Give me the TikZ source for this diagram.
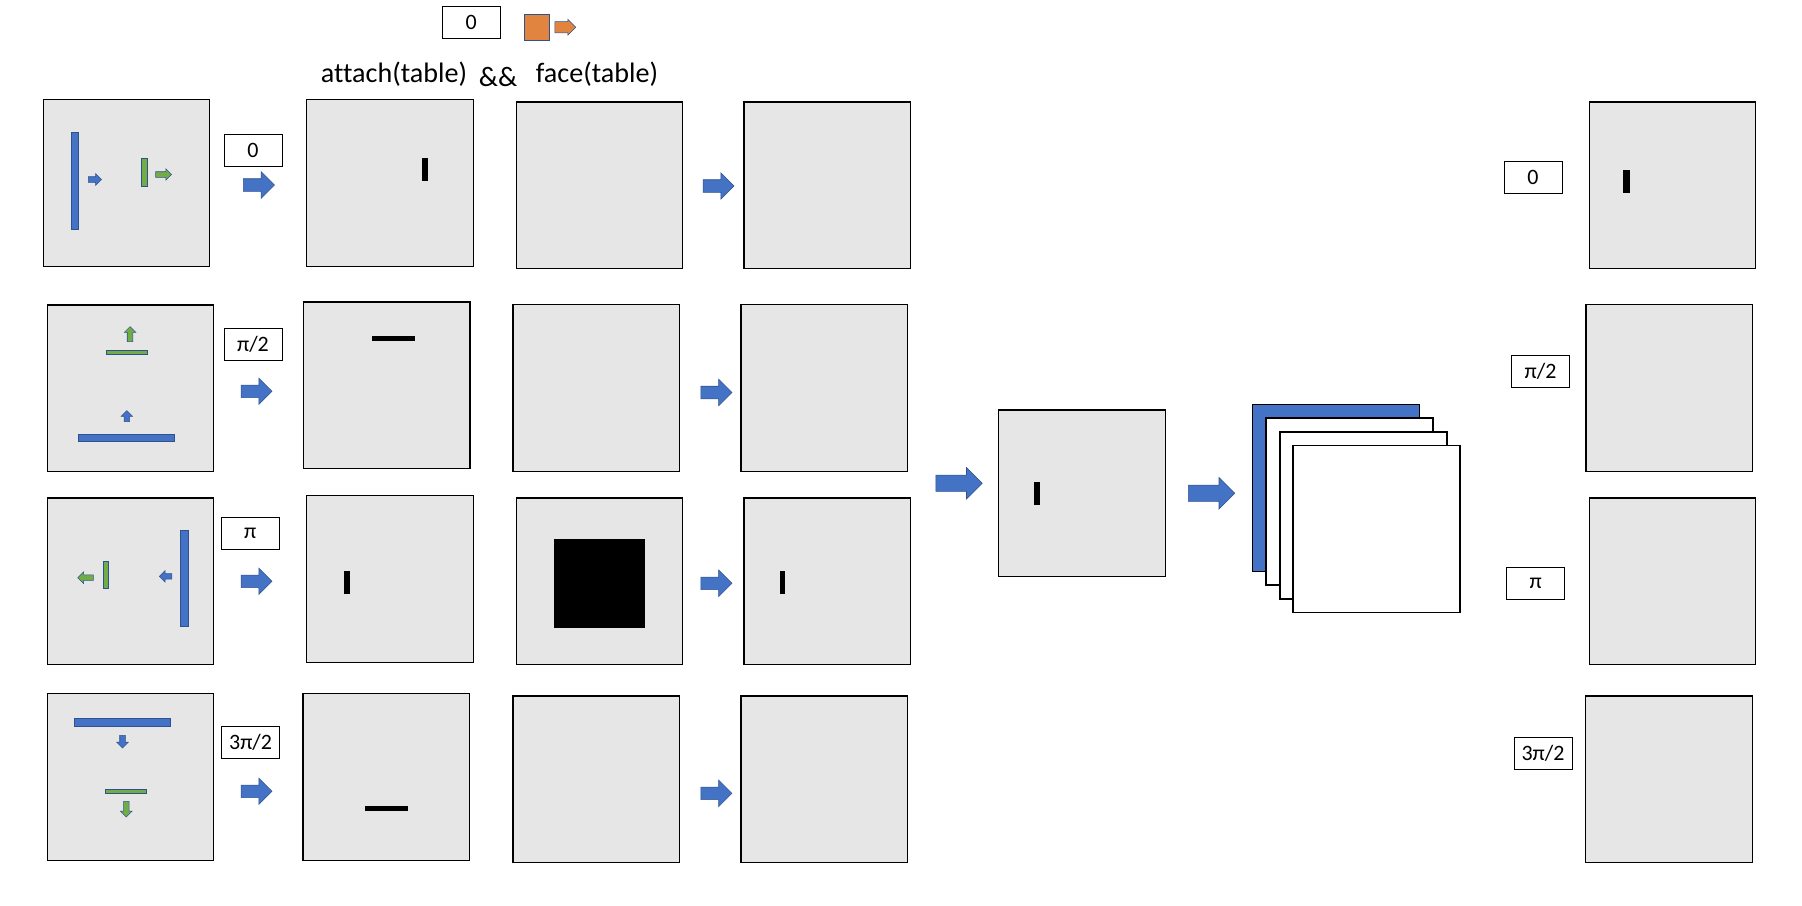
\documentclass[tikz,border=0pt]{standalone}
\usepackage{fontspec}
\setmainfont{Carlito}[Ligatures={NoCommon}]
\usetikzlibrary{positioning}
\usetikzlibrary{calc,shapes.arrows}

\definecolor{pblue}{HTML}{4472C4}
\definecolor{pgreen}{HTML}{70AD47}
\definecolor{porange}{HTML}{E0843F}
\definecolor{pedge}{HTML}{2F528F}
\definecolor{pgray}{HTML}{E6E6E6}

\tikzset{
    panel/.style={draw=black,line width=0.8pt,fill=pgray,minimum width=3.33cm,minimum height=3.34cm,inner sep=0pt},
    stackbox/.style={draw=black,line width=0.8pt,fill=white,minimum width=3.34cm,minimum height=3.34cm,inner sep=0pt},
    anglebox/.style={draw=black,line width=0.5pt,fill=white,minimum width=1.16cm,minimum height=0.64cm,inner sep=0pt,font=\fontsize{12.5}{14}\selectfont},
    blockarrow/.style={single arrow,draw=pedge,line width=0.3pt,fill=pblue,inner sep=0pt,inner ysep=0.12cm,single arrow head extend=0.14cm,minimum height=0.62cm},
    widearrow/.style={blockarrow,inner ysep=0.157cm,single arrow head extend=0.154cm,minimum height=0.93cm},
    tinyarrow/.style={single arrow,draw=pedge,line width=0.3pt,inner sep=0pt,inner ysep=0.05cm,single arrow head extend=0.06cm},
    bar/.style={draw=pedge,line width=0.4pt},
    blackbar/.style={fill=black},
    heading/.style={font=\fontsize{16}{19}\selectfont,inner sep=0pt,anchor=base}
}

\begin{document}
\begin{tikzpicture}[x=0.02cm,y=-0.02cm]
    \useasboundingbox (0,0) rectangle (1802,906);

    \node[anglebox] (T0) at (471.3,22.3) {0};
    \draw[bar,fill=porange] (524,14) rectangle (549,40.7);
    \node[tinyarrow,fill=porange,inner ysep=0.107cm,single arrow head extend=0.047cm,minimum height=0.42cm] (TA) at (562.5,27.3) {};

    \node[heading] (H1) at (394,82.7) {attach(table)};
    \node[heading] (H2) at (498,86) {\&\&};
    \node[heading] (H3) at (597,82.7) {face(table)};

    \node[panel] (P11) at (126.5,183) {};
    \node[panel] (P12) at (390,183) {};
    \node[panel] (P13) at (599.5,185.3) {};
    \node[panel] (P14) at (827.4,185.3) {};
    \node[panel] (P1R) at (1672.5,185.3) {};

    \node[panel] (P21) at (130.5,388.3) {};
    \node[panel] (P22) at (386.9,385.3) {};
    \node[panel] (P23) at (596.4,387.8) {};
    \node[panel] (P24) at (824.4,387.8) {};
    \node[panel] (P2R) at (1669.3,387.8) {};

    \node[panel] (P31) at (130.5,581.3) {};
    \node[panel] (P32) at (390,578.8) {};
    \node[panel] (P33) at (599.5,581.3) {};
    \node[panel] (P34) at (827.4,581.3) {};
    \node[panel] (P3R) at (1672.5,581.3) {};

    \node[panel] (P41) at (130.5,776.8) {};
    \node[panel] (P42) at (386.3,776.8) {};
    \node[panel] (P43) at (596.4,779.3) {};
    \node[panel] (P44) at (824.4,779.3) {};
    \node[panel] (P4R) at (1669,779.3) {};

    \node[panel] (M) at (1082,493.3) {};

    \node[stackbox,fill=pblue] (S1) at (1336,488) {};
    \node[stackbox] (S2) at (1349.5,501.5) {};
    \node[stackbox] (S3) at (1363.5,515.5) {};
    \node[stackbox] (S4) at (1376.5,528.8) {};

    \node[anglebox] (L1) at (253,150) {0};
    \node[anglebox] (L2) at (253,344) {π/2};
    \node[anglebox] (L3) at (250.3,533.8) {π};
    \node[anglebox] (L4) at (250.6,742) {3π/2};
    \node[anglebox] (R1) at (1533,177.5) {0};
    \node[anglebox] (R2) at (1540.5,371.3) {π/2};
    \node[anglebox] (R3) at (1535.8,583.3) {π};
    \node[anglebox] (R4) at (1543,753.3) {3π/2};

    \node[blockarrow] (A11) at (255.8,185) {};
    \node[blockarrow] (A21) at (253.4,391.3) {};
    \node[blockarrow] (A31) at (253.4,581.3) {};
    \node[blockarrow] (A41) at (253.4,791.3) {};
    \node[blockarrow] (A13) at (715.4,186) {};
    \node[blockarrow] (A23) at (713.3,392.5) {};
    \node[blockarrow] (A33) at (713.3,583.3) {};
    \node[blockarrow] (A43) at (713.3,793.3) {};
    \node[widearrow] (AM) at (955,483.3) {};
    \node[widearrow] (AS) at (1207.5,493.3) {};

    \draw[bar,fill=pblue] (71,132) rectangle (78.6,229);
    \node[tinyarrow,fill=pblue,minimum height=0.26cm] (a1) at (93.5,179.5) {};
    \draw[bar,fill=pgreen] (141,158) rectangle (147,186);
    \node[tinyarrow,fill=pgreen,minimum height=0.32cm] (g1) at (162.2,174.5) {};

    \node[tinyarrow,fill=pgreen,minimum height=0.3cm,rotate=90] (g2) at (130,335.5) {};
    \draw[bar,fill=pgreen] (106,350) rectangle (147.5,354.3);
    \node[tinyarrow,fill=pblue,minimum height=0.22cm,rotate=90] (a2) at (126.8,417.5) {};
    \draw[bar,fill=pblue] (78,434) rectangle (174.5,441.7);

    \node[tinyarrow,fill=pgreen,minimum height=0.31cm,rotate=180] (g3) at (86.9,577.7) {};
    \draw[bar,fill=pgreen] (103,561.3) rectangle (108.5,588.3);
    \node[tinyarrow,fill=pblue,minimum height=0.25cm,rotate=180] (a3) at (167,576.3) {};
    \draw[bar,fill=pblue] (180,530) rectangle (188.3,626.7);

    \draw[bar,fill=pblue] (74,718.3) rectangle (170.5,726.7);
    \node[tinyarrow,fill=pblue,minimum height=0.25cm,rotate=-90] (a4) at (122.5,740.3) {};
    \draw[bar,fill=pgreen] (105,789.3) rectangle (146.4,793.3);
    \node[tinyarrow,fill=pgreen,minimum height=0.31cm,rotate=-90] (g4) at (126.3,807.8) {};

    \fill[blackbar] (422,158) rectangle (427.7,181);
    \fill[blackbar] (1623,170) rectangle (1629.6,192.7);
    \fill[blackbar] (372,336) rectangle (414.5,340.7);
    \fill[blackbar] (344.4,571) rectangle (350.2,593.7);
    \fill[blackbar] (554,539) rectangle (645.2,627.7);
    \fill[blackbar] (779.6,571) rectangle (785.3,593.7);
    \fill[blackbar] (365,806) rectangle (408,810.7);
    \fill[blackbar] (1033.8,481.7) rectangle (1039.5,505);
\end{tikzpicture}
\end{document}
